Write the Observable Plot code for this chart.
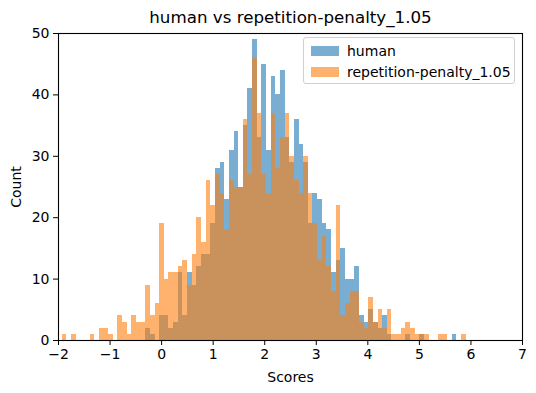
<!DOCTYPE html>
<html>
<head>
<meta charset="utf-8">
<script src="https://cdn.jsdelivr.net/npm/d3@7"></script>
<script src="https://cdn.jsdelivr.net/npm/@observablehq/plot@0.6"></script>
<style>
  html, body { margin: 0; padding: 0; background: #fff; }
  #wrap { position: relative; width: 536px; height: 393px; font-family: "DejaVu Sans", sans-serif; }
  #wrap svg text { font-family: "DejaVu Sans", sans-serif !important; font-size: 14px !important; fill: #000; }
  #wrap svg g.title-text text { font-size: 16.7px !important; }
  #legend { position: absolute; left: 303px; top: 37px; width: 212px; height: 47px;
    border: 1px solid #d0d0d0; border-radius: 3px; background: rgba(255,255,255,0.8);
    box-sizing: border-box; font-size: 14px; color: #000; }
  .item { position: absolute; left: 7px; height: 14px; display: flex; align-items: center; }
  .sw { width: 28px; height: 10px; margin-right: 8px; }
</style>
</head>
<body>
<div id="wrap"></div>
<script>
const title = "human vs repetition-penalty_1.05";
const seriesNames = ["human", "repetition-penalty_1.05"];
const seriesColors = ["#1f77b4", "#ff7f0e"];
const binStart = -1.929;
const binWidth = 0.0901;
const xTicks = [-2, -1, 0, 1, 2, 3, 4, 5, 6, 7];
const yTicks = [0, 10, 20, 30, 40, 50];

const humanCounts = [
  0,0,0,0,0,0,0,0,0,0,0,0,0,0,0,0,0,0,
  2,1,0,4,4,2,3,11,4,11,9,12,
  14,14,19,28,29,23,31,34,25,35,41,49,
  33,45,31,43,40,44,33,29,36,32,29,19,
  24,23,19,18,11,13,15,10,10,12,4,3,
  5,3,2,4,1,0,0,0,1,0,0,1,
  0,0,0,0,0,0,1,0,0
];
const penaltyCounts = [
  1,0,1,0,0,0,1,0,2,2,1,0,
  4,3,1,4,3,3,9,4,6,19,10,11,
  11,12,13,9,14,20,16,26,22,27,24,18,
  26,25,25,36,27,46,37,27,24,37,28,33,
  37,30,26,24,30,24,19,13,17,12,8,22,
  4,6,8,8,3,2,7,3,5,2,5,1,
  1,2,3,2,1,1,1,0,0,1,1,0,
  0,0,1
];

function rows(counts) {
  return counts.map((c, k) => ({x1: binStart + k * binWidth, x2: binStart + (k + 1) * binWidth, count: c}))
               .filter(d => d.count > 0);
}

const chart = Plot.plot({
  width: 536,
  height: 393,
  marginLeft: 58,
  marginRight: 14,
  marginTop: 33,
  marginBottom: 53,
  style: {fontFamily: "DejaVu Sans, sans-serif", fontSize: "14px", color: "#000", background: "#fff"},
  x: {domain: [-2, 7]},
  y: {domain: [0, 50]},
  marks: [
    Plot.rectY(rows(humanCounts), {x1: "x1", x2: "x2", y: "count", fill: seriesColors[0], fillOpacity: 0.6, shapeRendering: "crispEdges"}),
    Plot.rectY(rows(penaltyCounts), {x1: "x1", x2: "x2", y: "count", fill: seriesColors[1], fillOpacity: 0.6, shapeRendering: "crispEdges"}),
    Plot.frame({stroke: "#000", strokeWidth: 1.1}),
    Plot.axisX({ticks: xTicks, tickSize: 5, tickPadding: 4, tickFormat: d => d < 0 ? "\u2212" + Math.abs(d) : String(d),
      label: "Scores", labelAnchor: "center", labelArrow: "none", labelOffset: 41}),
    Plot.axisY({ticks: yTicks, tickSize: 5, tickPadding: 4,
      label: "Count", labelAnchor: "center", labelArrow: "none", labelOffset: 47}),
    Plot.text([title], {frameAnchor: "top", dy: -16, lineAnchor: "middle", className: "title-text"})
  ]
});
const wrap = document.getElementById("wrap");
wrap.appendChild(chart);

const legend = document.createElement("div");
legend.id = "legend";
seriesNames.forEach((name, i) => {
  const item = document.createElement("div");
  item.className = "item";
  item.style.top = (i === 0 ? 6 : 27) + "px";
  const sw = document.createElement("div");
  sw.className = "sw";
  sw.style.background = seriesColors[i];
  sw.style.opacity = 0.6;
  const label = document.createElement("span");
  label.textContent = name;
  item.appendChild(sw);
  item.appendChild(label);
  legend.appendChild(item);
});
wrap.appendChild(legend);
</script>
</body>
</html>
